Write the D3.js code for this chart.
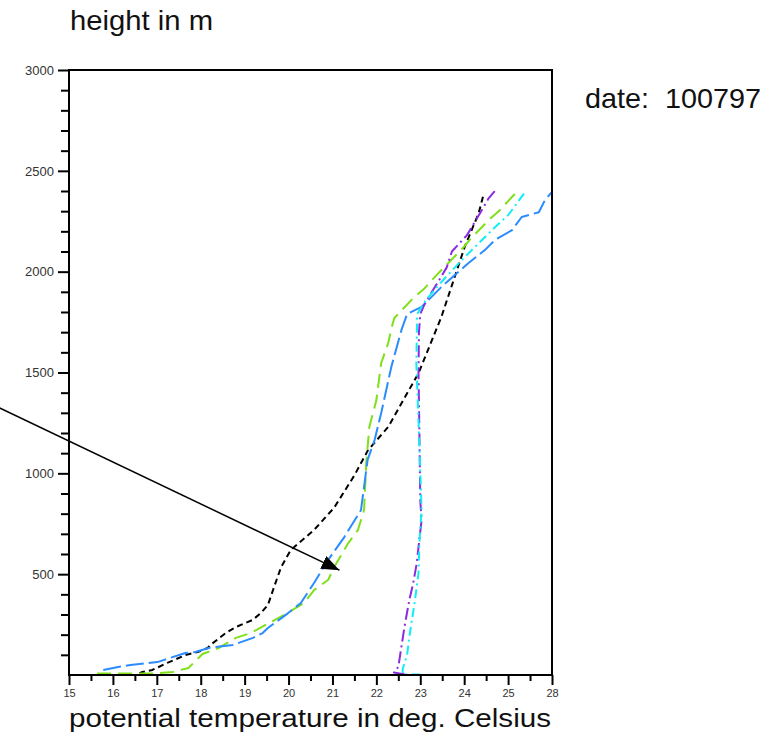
<!DOCTYPE html>
<html>
<head>
<meta charset="utf-8">
<script src="https://cdn.jsdelivr.net/npm/d3@7"></script>
<style>
  html, body { margin: 0; padding: 0; background: #fff; }
  svg { display: block; font-family: "Liberation Sans", Arial, sans-serif; }
</style>
</head>
<body>
<svg id="chart" width="783" height="751"></svg>
<script>
// ---- data ----
const xTickValues = [15, 16, 17, 18, 19, 20, 21, 22, 23, 24, 25, 26];
const xTickLabels = ["15", "16", "17", "18", "19", "20", "21", "22", "23", "24", "25", "28"];
const yTickValues = [500, 1000, 1500, 2000, 2500, 3000];

const blackT = [16.6, 16.67, 16.9, 17.24, 17.65, 17.93, 18.16, 18.22, 18.57, 18.8, 19.18, 19.37, 19.53, 19.67, 19.83, 20.05, 20.58, 21.04, 21.5, 21.81, 22.27, 22.96, 23.48, 23.76, 24.01, 24.17, 24.33, 24.45];
const blackH = [8, 15, 25, 60, 99, 114, 134, 149, 208, 238, 273, 307, 347, 436, 535, 620, 719, 830, 990, 1115, 1230, 1497, 1775, 1958, 2122, 2206, 2290, 2390];

const greenT = [15.64, 16.92, 17.36, 17.72, 18.04, 18.41, 18.8, 19.14, 19.6, 19.89, 20.35, 20.58, 20.9, 21.04, 21.36, 21.58, 21.72, 21.77, 21.84, 22.0, 22.11, 22.27, 22.35, 22.41, 22.84, 23.1, 23.37, 23.64, 23.99, 24.12, 24.56, 24.81, 25.13, 25.2];
const greenH = [8, 8, 15, 35, 104, 134, 184, 208, 263, 297, 357, 421, 471, 535, 654, 719, 818, 1051, 1230, 1363, 1547, 1646, 1725, 1770, 1869, 1918, 1983, 2043, 2122, 2157, 2256, 2305, 2380, 2395];

const blueT = [15.78, 16.12, 16.4, 17.01, 17.15, 17.65, 17.88, 18.18, 18.73, 19.19, 19.41, 19.53, 19.99, 20.28, 20.58, 20.9, 21.27, 21.65, 21.8, 21.96, 22.11, 22.34, 22.57, 22.7, 23.03, 23.48, 24.1, 24.47, 24.7, 25.09, 25.31, 25.7, 25.84, 26.0];
const blueH = [25, 40, 50, 64, 74, 109, 114, 134, 149, 184, 208, 233, 307, 357, 456, 570, 684, 818, 1066, 1165, 1299, 1527, 1710, 1790, 1825, 1924, 2043, 2107, 2157, 2206, 2271, 2295, 2355, 2395];

const purpleT = [22.65, 22.4, 22.5, 22.57, 22.64, 22.75, 22.84, 22.92, 22.96, 23.03, 23.0, 22.98, 22.96, 22.97, 23.0, 23.1, 23.28, 23.45, 23.6, 23.72, 24.06, 24.36, 24.56, 24.7];
const purpleH = [3, 12, 40, 139, 238, 372, 456, 555, 635, 768, 868, 1200, 1500, 1700, 1790, 1840, 1905, 1965, 2020, 2100, 2180, 2290, 2365, 2400];

const cyanT = [23.0, 22.6, 22.6, 22.7, 22.75, 22.87, 22.96, 22.98, 23.03, 22.97, 22.91, 22.93, 23.1, 23.4, 23.7, 24.0, 24.35, 24.65, 25.0, 25.39];
const cyanH = [3, 3, 30, 100, 188, 357, 505, 654, 818, 1200, 1547, 1790, 1850, 1930, 2000, 2070, 2145, 2210, 2280, 2395];

const arrowFrom = [13.42, 1324];
const arrowTo = [21.16, 520];

// ---- layout ----
const svg = d3.select("#chart");
const plotLeft = 69, plotRight = 552, plotTop = 70, plotBottom = 675;

const x = d3.scaleLinear().domain([15, 26]).range([plotLeft, plotRight]);
const y = d3.scaleLinear().domain([0, 3000]).range([plotBottom, plotTop]);

const series = [
  { T: blackT, H: blackH, color: "#000000", dash: "6,4", width: 2 },
  { T: greenT, H: greenH, color: "#7fe01a", dash: "14,7", width: 2 },
  { T: blueT, H: blueH, color: "#2a8cff", dash: "18,5", width: 2 },
  { T: purpleT, H: purpleH, color: "#8a2be2", dash: "12,4,2,4", width: 2 },
  { T: cyanT, H: cyanH, color: "#10eef5", dash: "9,4,2,4", width: 2 }
];

const line = d3.line().x(d => x(d[0])).y(d => y(d[1]));

series.forEach(s => {
  const pts = s.T.map((t, i) => [t, s.H[i]]);
  svg.append("path")
    .attr("d", line(pts))
    .attr("fill", "none")
    .attr("stroke", s.color)
    .attr("stroke-width", s.width)
    .attr("stroke-dasharray", s.dash)
    .attr("stroke-linejoin", "round");
});

// ---- axes ----
const gx = svg.append("g").attr("transform", `translate(0,${plotBottom})`)
  .call(d3.axisBottom(x).tickValues(d3.range(15.5, 26, 1)).tickSize(6).tickSizeOuter(0).tickFormat(""));
const gx2 = svg.append("g").attr("transform", `translate(0,${plotBottom})`)
  .call(d3.axisBottom(x).tickValues(xTickValues).tickSize(10).tickSizeOuter(0).tickPadding(4)
    .tickFormat((d, i) => xTickLabels[i]));
const gy = svg.append("g").attr("transform", `translate(${plotLeft},0)`)
  .call(d3.axisLeft(y).tickValues(d3.range(100, 3000, 100).filter(v => v % 500 !== 0)).tickSize(8).tickSizeOuter(0).tickFormat(""));
const gy2 = svg.append("g").attr("transform", `translate(${plotLeft},0)`)
  .call(d3.axisLeft(y).tickValues(yTickValues).tickSize(11).tickSizeOuter(0).tickPadding(4)
    .tickFormat(d3.format("d")));

[gx, gx2, gy, gy2].forEach(g => {
  g.select(".domain").remove();
  g.selectAll(".tick line").attr("stroke", "#000").attr("stroke-width", 2);
  g.selectAll(".tick text").attr("font-size", 11).attr("fill", "#333")
    .attr("font-family", "'Liberation Sans', Arial, sans-serif");
});
gy2.selectAll(".tick text").attr("font-size", 13);

// frame
svg.append("rect")
  .attr("x", x(15)).attr("y", y(3000))
  .attr("width", x(26) - x(15)).attr("height", y(0) - y(3000))
  .attr("fill", "none").attr("stroke", "#000").attr("stroke-width", 2);

// ---- arrow ----
const defs = svg.append("defs");
defs.append("marker")
  .attr("id", "ah").attr("viewBox", "0 0 18 14")
  .attr("refX", 18).attr("refY", 7)
  .attr("markerWidth", 18).attr("markerHeight", 14)
  .attr("markerUnits", "userSpaceOnUse")
  .attr("orient", "auto")
  .append("path").attr("d", "M0,0 L18,7 L0,14 Z").attr("fill", "#000");

svg.append("line")
  .attr("x1", x(arrowFrom[0])).attr("y1", y(arrowFrom[1]))
  .attr("x2", x(arrowTo[0])).attr("y2", y(arrowTo[1]))
  .attr("stroke", "#000").attr("stroke-width", 1.5)
  .attr("marker-end", "url(#ah)");

// ---- texts ----
svg.append("text").attr("x", 70).attr("y", 30)
  .attr("font-size", 28).attr("fill", "#111")
  .attr("textLength", 143).attr("lengthAdjust", "spacingAndGlyphs")
  .text("height in m");

svg.append("text").attr("x", 585).attr("y", 108)
  .attr("font-size", 28).attr("fill", "#111")
  .attr("textLength", 176).attr("lengthAdjust", "spacingAndGlyphs")
  .attr("xml:space", "preserve")
  .text("date:  100797");

svg.append("text").attr("x", 69).attr("y", 727)
  .attr("font-size", 26).attr("fill", "#111")
  .attr("textLength", 482).attr("lengthAdjust", "spacingAndGlyphs")
  .text("potential temperature in deg. Celsius");
</script>
</body>
</html>
